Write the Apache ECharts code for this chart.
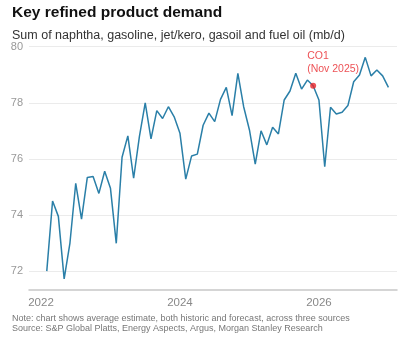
<!DOCTYPE html>
<html>
<head>
<meta charset="utf-8">
<script src="https://cdn.jsdelivr.net/npm/echarts@6/dist/echarts.min.js"></script>
<style>
  html, body { margin: 0; padding: 0; background: #fff; }
  #chart { width: 413px; height: 350px; }
</style>
</head>
<body>
<div id="chart"></div>
<script>
// monthly demand, Jan 2022 .. Dec 2026 (mb/d)
const demand = [
  72.0, 74.5, 73.95, 71.72, 73.0, 75.13, 73.85, 75.34, 75.37, 74.77, 75.56, 74.95,
  72.99, 76.06, 76.82, 75.31, 76.8, 78.0, 76.71, 77.72, 77.44, 77.86, 77.5, 76.91,
  75.28, 76.1, 76.17, 77.2, 77.63, 77.33, 78.12, 78.55, 77.54, 79.05, 77.86, 77.03,
  75.81, 77.0, 76.5, 77.13, 76.89, 78.1, 78.42, 79.05, 78.49, 78.81, 78.61, 78.1,
  75.72, 77.84, 77.6, 77.66, 77.9, 78.75, 78.99, 79.62, 78.96, 79.17, 78.96, 78.55
]
// x position = months since Jan 2022 (points sit at month end)
const monthPos = demand.map((_, i) => i + 1)
const yearTicks = [0, 24, 48]
const yearLabels = ['2022', '2024', '2026']
const yTicks = [72, 74, 76, 78, 80]
const markIndex = 46
const markText = ['CO1', '(Nov 2025)']

const chart = echarts.init(document.getElementById('chart'), null, { renderer: 'canvas' })

const font = '"Liberation Sans", Arial, sans-serif'

const option = {
  animation: false,
  title: [
    {
      text: 'Key refined product demand',
      left: 7, top: 0,
      textStyle: { fontFamily: font, fontSize: 15.5, fontWeight: 'bold', color: '#111' }
    },
    {
      text: 'Sum of naphtha, gasoline, jet/kero, gasoil and fuel oil (mb/d)',
      left: 7, top: 24,
      textStyle: { fontFamily: font, fontSize: 12.5, fontWeight: 'normal', color: '#333' }
    },
    {
      text: 'Note: chart shows average estimate, both historic and forecast, across three sources\nSource: S&P Global Platts, Energy Aspects, Argus, Morgan Stanley Research',
      left: 7, top: 309,
      textStyle: { fontFamily: font, fontSize: 9, fontWeight: 'normal', color: '#777', lineHeight: 10 }
    }
  ],
  grid: { left: 29, right: 16, top: 46.7, bottom: 60.7, containLabel: false },
  xAxis: {
    type: 'value',
    min: -2.07,
    max: 61.48,
    axisLine: { show: true, onZero: false, lineStyle: { color: '#c8c8c8', width: 1.5 } },
    axisTick: { show: false },
    splitLine: { show: false },
    axisLabel: {
      customValues: yearTicks,
      formatter: v => yearLabels[yearTicks.indexOf(v)],
      color: '#888',
      fontFamily: font,
      fontSize: 11.5,
      margin: 8
    }
  },
  yAxis: {
    type: 'value',
    min: 71.35,
    max: 80,
    axisLine: { show: false },
    axisTick: { show: false, customValues: yTicks },
    splitLine: { show: true, lineStyle: { color: '#ebebeb', width: 1 } },
    axisLabel: {
      customValues: yTicks,
      color: '#999',
      fontFamily: font,
      fontSize: 11,
      margin: 6
    }
  },
  series: [
    {
      type: 'line',
      data: demand.map((v, i) => [monthPos[i], v]),
      symbol: 'none',
      lineStyle: { color: '#2a7fa8', width: 1.5 },
      z: 2
    },
    {
      type: 'scatter',
      data: [[monthPos[markIndex], demand[markIndex]]],
      symbolSize: 6,
      itemStyle: { color: '#e8262b' },
      label: {
        show: true,
        position: 'top',
        align: 'left',
        offset: [-6, -2],
        formatter: markText.join('\n'),
        color: '#e8262b',
        fontFamily: font,
        fontSize: 10.5,
        lineHeight: 13
      },
      z: 3
    }
  ]
}

chart.setOption(option)
</script>
</body>
</html>
